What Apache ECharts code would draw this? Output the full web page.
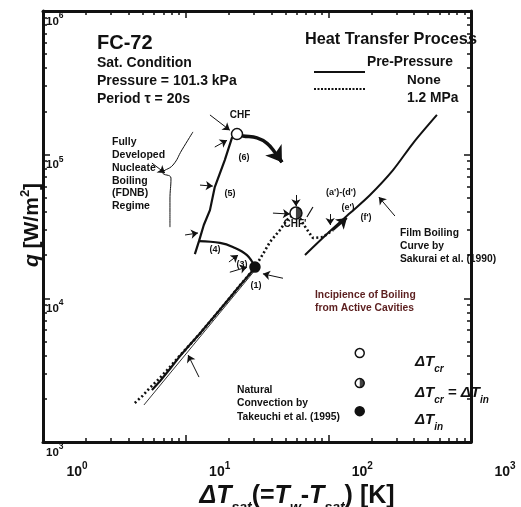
<!DOCTYPE html>
<html>
<head>
<meta charset="utf-8">
<script src="https://cdn.jsdelivr.net/npm/echarts@6/dist/echarts.min.js"></script>
<style>
  html, body { margin: 0; padding: 0; background: #fff; }
  #chart { width: 521px; height: 507px; }
</style>
</head>
<body>
<div id="chart"></div>
<script>
// ---- data (x: ΔT_sat [K], y: q [W/m2]) ----
const naturalConvection = [[5.1, 1810], [30.6, 15700]];
const noneRise = [[5.8, 2300], [6.6, 2650], [7.8, 3250], [9.0, 3900], [10.7, 4750], [12.5, 5650],
  [14.8, 6900], [17.3, 8300], [20.4, 10100], [23.2, 11800], [26.0, 13500], [28.5, 15000], [30.6, 16500]];
const noneCurve4 = [[30.6, 16500], [26.9, 20000], [21.4, 22800], [17.4, 24300], [12.4, 25000]];
const nucleate5 = [[11.6, 20300], [12.4, 25000], [13.4, 32400], [14.8, 41100], [16.0, 59500],
  [18.8, 91700], [21.1, 131000], [22.9, 139000]];
const pressRise = [[4.4, 1870], [5.0, 2100], [5.6, 2380], [6.5, 2750], [7.6, 3250], [9.0, 3950],
  [10.7, 4750], [12.6, 5700], [15.0, 7000], [17.5, 8400], [20.4, 10100], [24.0, 12300], [27.5, 14400],
  [30.6, 16500], [35.0, 20500], [39.0, 24700], [45.8, 29900], [51.2, 35100], [59.3, 39200],
  [63.2, 36200], [69.7, 30800], [78.0, 26300], [91.6, 26700], [108, 29900]];
const pressArrow = [[108, 29900], [135, 36200]];
const filmBoiling = [[68.6, 20000], [97.8, 28000], [142, 39200], [196, 52400], [284, 78100],
  [392, 120000], [577, 189000]];
const transition6 = [[22.9, 139000], [25.2, 135000], [31.6, 131000], [37.2, 120000], [42.2, 104000], [47.3, 88700]];
const transitionHead = [[43.5, 100000], [47.3, 88700]];
const brace = [[11.25, 144000], [9.42, 108000], [8.15, 84700], [6.93, 74500], [7.89, 68700], [7.76, 48300], [7.76, 31300]];
const chfNone = [22.9, 139000];
const inceptNone = [30.6, 16500];
const chfPress = [59.3, 39200];
const keyOpen = [166, 4160];
const keyHalf = [166, 2570];
const keyFilled = [166, 1640];
const pointers = [
  [[14.8, 189000], [20.4, 148000]], [[16.0, 113000], [19.5, 126000]], [[12.6, 61400], [15.5, 60400]],
  [[9.9, 27600], [12.2, 28500]], [[20.1, 17900], [23.3, 20000]], [[20.4, 15200], [26.9, 16500]],
  [[48.1, 13800], [34.8, 14800]], [[40.9, 39200], [53.8, 38600]], [[59.3, 52400], [59.3, 43800]],
  [[103, 38600], [103, 32400]], [[293, 37400], [226, 50700]], [[12.4, 2830], [10.4, 4030]],
  [[5.8, 87400], [7.16, 74500]]
];
const slash = [[70.8, 36800], [78.0, 43200]];

// ---- tick values ----
const dtMajor = [1, 10, 100, 1000];
const dtMinor = [2, 3, 4, 5, 6, 7, 8, 9, 20, 30, 40, 50, 60, 70, 80, 90, 200, 300, 400, 500, 600, 700, 800, 900];
const qMajor = [1e3, 1e4, 1e5, 1e6];
const qMinor = [2e3, 3e3, 4e3, 5e3, 6e3, 7e3, 8e3, 9e3, 2e4, 3e4, 4e4, 5e4, 6e4, 7e4, 8e4, 9e4,
  2e5, 3e5, 4e5, 5e5, 6e5, 7e5, 8e5, 9e5];

const FONT = '"Liberation Sans", Arial, sans-serif';
const INK = '#111';

function expLabel(v) {
  return '{b|10}{s|' + Math.round(Math.log10(v)) + '}';
}

function frameAxis(pos, min, max, ticks, len, extra) {
  return Object.assign({
    type: 'log', logBase: 10, min: min, max: max, position: pos,
    axisLine: { show: false },
    axisTick: { show: true, inside: true, length: len, customValues: ticks, lineStyle: { color: INK, width: 1.5 } },
    axisLabel: { show: false },
    splitLine: { show: false }, minorTick: { show: false }
  }, extra || {});
}

const thickLine = { show: true, lineStyle: { color: INK, width: 3 } };

const xAxis = [
  frameAxis('bottom', 1, 1000, dtMajor, 7, {
    axisLine: thickLine,
    axisLabel: {
      show: true, margin: 19, padding: [0, 0, 0, 68], formatter: expLabel, customValues: dtMajor,
      rich: {
        b: { fontFamily: FONT, fontSize: 14, fontWeight: 'bold', color: INK, lineHeight: 22 },
        s: { fontFamily: FONT, fontSize: 10, fontWeight: 'bold', color: INK, lineHeight: 10, verticalAlign: 'top' }
      }
    },
    name: '{m|ΔT}{s|sat}{n|(=}{m|T}{s|w}{n|-}{m|T}{s|sat}{n|) [K]}',
    nameLocation: 'middle', nameGap: 12,
    nameTextStyle: {
      padding: [0, 0, 0, 80],
      rich: {
        m: { fontFamily: FONT, fontSize: 25, fontStyle: 'italic', fontWeight: 'bold', color: INK, lineHeight: 38 },
        n: { fontFamily: FONT, fontSize: 25, fontWeight: 'bold', color: INK, lineHeight: 38 },
        s: { fontFamily: FONT, fontSize: 14, fontStyle: 'italic', fontWeight: 'bold', color: INK, lineHeight: 12, verticalAlign: 'bottom' }
      }
    }
  }),
  frameAxis('bottom', 1, 1000, dtMinor, 4),
  frameAxis('top', 1, 1000, dtMajor, 7, { axisLine: thickLine }),
  frameAxis('top', 1, 1000, dtMinor, 4)
];

const yAxis = [
  frameAxis('left', 1e3, 1e6, qMajor, 7, {
    axisLine: thickLine,
    axisLabel: {
      show: true, inside: true, margin: 3, verticalAlign: 'top', formatter: expLabel, customValues: qMajor,
      rich: {
        b: { fontFamily: FONT, fontSize: 11.5, fontWeight: 'bold', color: INK, lineHeight: 21 },
        s: { fontFamily: FONT, fontSize: 8.5, fontWeight: 'bold', color: INK, lineHeight: 9, verticalAlign: 'top' }
      }
    }
  }),
  frameAxis('left', 1e3, 1e6, qMinor, 4),
  frameAxis('right', 1e3, 1e6, qMajor, 7, { axisLine: thickLine }),
  frameAxis('right', 1e3, 1e6, qMinor, 4)
];

function curve(data, width, extra) {
  return Object.assign({
    type: 'line', data: data, showSymbol: false, symbol: 'none',
    lineStyle: { color: INK, width: width }, z: 3
  }, extra || {});
}

function arrowLines(list, width, size, headless) {
  return {
    type: 'lines', coordinateSystem: 'cartesian2d', polyline: false,
    data: list.map(c => ({ coords: c })),
    lineStyle: { color: INK, width: width, opacity: 1, curveness: 0 },
    symbol: headless ? ['none', 'none'] : ['none', 'arrow'], symbolSize: size, z: 4
  };
}

function marker(points, size, fill, extra) {
  return Object.assign({
    type: 'scatter', data: points, symbol: 'circle', symbolSize: size,
    itemStyle: { color: fill, borderColor: INK, borderWidth: 1.5, opacity: 1 }, z: 6
  }, extra || {});
}

const halfDisk = 'path://M0,0A10,10,0,0,1,0,20Z';

function txt(x, y, text, size, extra) {
  return {
    type: 'text', x: x, y: y, silent: true, z: 20,
    style: Object.assign({
      text: text, fontFamily: FONT, fontSize: size, fontWeight: 'bold', fill: INK,
      align: 'left', verticalAlign: 'middle'
    }, extra || {})
  };
}

const keyRich = {
  m: { fontFamily: FONT, fontSize: 15, fontStyle: 'italic', fontWeight: 'bold', fill: INK, lineHeight: 25 },
  s: { fontFamily: FONT, fontSize: 10, fontStyle: 'italic', fontWeight: 'bold', fill: INK, lineHeight: 12, verticalAlign: 'bottom' }
};

const yTitleRich = {
  m: { fontFamily: FONT, fontSize: 21, fontStyle: 'italic', fontWeight: 'bold', fill: INK, lineHeight: 26 },
  n: { fontFamily: FONT, fontSize: 21, fontWeight: 'bold', fill: INK, lineHeight: 26 },
  p: { fontFamily: FONT, fontSize: 13, fontWeight: 'bold', fill: INK, lineHeight: 13, verticalAlign: 'top' }
};

const graphic = [
  Object.assign(txt(32, 225, '{m|q}{n| [W/m}{p|2}{n|]}', 21, { align: 'center', rich: yTitleRich }), { rotation: Math.PI / 2 }),
  txt(97, 43, 'FC-72', 20),
  txt(97, 54, 'Sat. Condition\nPressure = 101.3 kPa\nPeriod τ = 20s', 14, { verticalAlign: 'top', lineHeight: 18 }),
  txt(305, 40, 'Heat Transfer Process', 16.3),
  txt(367, 62, 'Pre-Pressure', 13.8),
  txt(407, 80, 'None', 13.5),
  txt(407, 98, '1.2 MPa', 13.8),
  { type: 'line', silent: true, shape: { x1: 314, y1: 72, x2: 365, y2: 72 }, style: { stroke: INK, lineWidth: 2 } },
  { type: 'line', silent: true, shape: { x1: 314, y1: 89, x2: 365, y2: 89 }, style: { stroke: INK, lineWidth: 2, lineDash: [2, 1.5] } },
  txt(112, 136, 'Fully\nDeveloped\nNucleate\nBoiling\n(FDNB)\nRegime', 10.5, { verticalAlign: 'top', lineHeight: 12.8 }),
  txt(240, 115, 'CHF', 10, { align: 'center' }),
  txt(244, 158, '(6)', 9, { align: 'center' }),
  txt(230, 194, '(5)', 9, { align: 'center' }),
  txt(215, 250, '(4)', 9, { align: 'center' }),
  txt(242, 265, '(3)', 9, { align: 'center' }),
  txt(256, 286, '(1)', 9, { align: 'center' }),
  txt(295, 224, "CHF'", 10, { align: 'center' }),
  txt(341, 193, "(a')-(d')", 9, { align: 'center' }),
  txt(348, 208, "(e')", 9, { align: 'center' }),
  txt(366, 218, "(f')", 9, { align: 'center' }),
  txt(400, 226.5, 'Film Boiling\nCurve by\nSakurai et al. (1990)', 10.3, { verticalAlign: 'top', lineHeight: 13 }),
  txt(315, 288.5, 'Incipience of Boiling\nfrom Active Cavities', 10.3, { verticalAlign: 'top', lineHeight: 13, fill: '#5c1f1f' }),
  txt(237, 383, 'Natural\nConvection by\nTakeuchi et al. (1995)', 10.3, { verticalAlign: 'top', lineHeight: 13.5 }),
  txt(415, 362, '{m|ΔT}{s|cr}', 15, { rich: keyRich }),
  txt(415, 393, '{m|ΔT}{s|cr}{m| = ΔT}{s|in}', 15, { rich: keyRich }),
  txt(415, 420, '{m|ΔT}{s|in}', 15, { rich: keyRich })
];

const series = [
  curve(naturalConvection, 1, { lineStyle: { color: '#333', width: 1 }, z: 2 }),
  curve(pressRise, 2.6, { lineStyle: { color: INK, width: 2.6, type: [2, 2.5] } }),
  curve(noneRise, 2.2),
  curve(noneCurve4, 2.2, { smooth: 0.4 }),
  curve(nucleate5, 2.2),
  curve(filmBoiling, 2, { smooth: 0.3 }),
  curve(brace, 1, { smooth: 0.5 }),
  curve(transition6, 3.5, { smooth: 0.4 }),
  arrowLines([transitionHead], 3.5, 15),
  arrowLines([pressArrow], 2, 10),
  arrowLines(pointers, 1, 7),
  arrowLines([slash], 1.2, 1, true),
  marker([chfNone], 11, '#fff'),
  marker([inceptNone], 10, INK),
  marker([chfPress], 12, '#fff'),
  marker([chfPress], [6, 12], INK, { symbol: halfDisk, symbolOffset: [3, 0], itemStyle: { color: INK, borderWidth: 0 }, z: 7 }),
  marker([keyOpen], 9, '#fff'),
  marker([keyHalf], 9, '#fff'),
  marker([keyHalf], [4.5, 9], INK, { symbol: halfDisk, symbolOffset: [2.25, 0], itemStyle: { color: INK, borderWidth: 0 }, z: 7 }),
  marker([keyFilled], 9, INK)
];

const chart = echarts.init(document.getElementById('chart'), null, { renderer: 'canvas' });
chart.setOption({
  animation: false,
  backgroundColor: '#fff',
  grid: { left: 43, top: 11, right: 50, bottom: 65, containLabel: false, outerBoundsMode: 'none' },
  xAxis: xAxis,
  yAxis: yAxis,
  series: series,
  graphic: graphic
});
</script>
</body>
</html>
